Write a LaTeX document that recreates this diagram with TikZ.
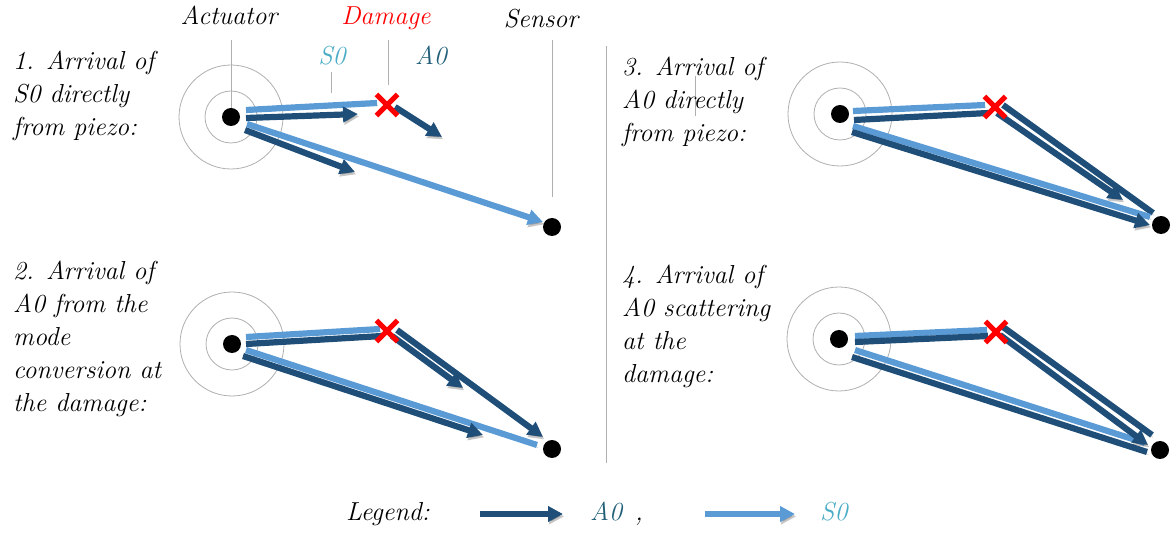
\documentclass[tikz,border=0pt]{standalone}
\usetikzlibrary{arrows.meta,shapes.misc,calc,backgrounds}
\definecolor{aodark}{RGB}{31,78,121}
\definecolor{solight}{RGB}{91,155,213}
\definecolor{sotext}{RGB}{75,172,198}
\definecolor{aotext}{RGB}{33,95,120}
\definecolor{guide}{RGB}{175,175,175}
\definecolor{damred}{RGB}{255,0,0}
\begin{document}
\begin{tikzpicture}[x=1pt,y=-1pt,
  txt/.style={font=\fontsize{26}{33}\selectfont\itshape, inner sep=0pt},
  para/.style={txt, align=left, anchor=north west},
  lbl/.style={txt, anchor=base},
  dot/.style={circle, fill=black, minimum size=18pt, inner sep=0pt},
  damage/.style={cross out, draw=damred, line width=5.2pt, minimum size=16pt, inner sep=0pt},
  ring/.style={draw=guide, line width=0.8pt},
  guideline/.style={draw=guide, line width=1pt},
  shadowed/.style={preaction={draw=black, draw opacity=0.22, fill=black, fill opacity=0.22, transform canvas={shift={(1.2pt,-2.4pt)}}}},
  aoline/.style={shadowed, draw=aodark, line width=6.2pt},
  soline/.style={shadowed, draw=solight, line width=6.2pt},
  aoarrow/.style={aoline, -{Triangle[length=15pt,width=15pt]}},
  soarrow/.style={soline, -{Triangle[length=15pt,width=15pt]}}
]
\useasboundingbox (0,0) rectangle (1171,534);

% ---------- node positions ----------
\node[dot] (a1) at (231,117) {};
\node[dot] (s1) at (552,227) {};
\node[damage] (d1) at (387,105) {};
\node[dot] (a2) at (232,344) {};
\node[dot] (s2) at (552,449) {};
\node[damage] (d2) at (387,331) {};
\node[dot] (a3) at (840,114) {};
\node[dot] (s3) at (1161,225) {};
\node[damage] (d3) at (995,107) {};
\node[dot] (a4) at (839,339) {};
\node[dot] (s4) at (1160,450) {};
\node[damage] (d4) at (996,332) {};

% ---------- labels ----------
\node[lbl] (lact) at (229,25) {Actuator};
\node[lbl, text=damred] (ldam) at (386,25) {Damage};
\node[lbl] (lsen) at (541,28) {Sensor};
\node[lbl, text=sotext] (lso) at (332,65) {S0};
\node[lbl, text=aotext] (lao) at (431,65) {A0};

\node[para] (t1) at (13,51) {1. Arrival of\\S0 directly\\from piezo:};
\node[para] (t2) at (13,261) {2. Arrival of\\A0 from the\\mode\\conversion at\\the damage:};
\node[para] (t3) at (622,57) {3. Arrival of\\A0 directly\\from piezo:};
\node[para] (t4) at (622,265) {4. Arrival of\\A0 scattering\\at the\\damage:};

% legend
\node[txt, anchor=base west] (leg) at (346,521) {Legend:};
\coordinate (la1) at (480,514);
\coordinate (la2) at (563,514);
\node[txt, anchor=base west, text=aotext] (legao) at (590,521) {A0};
\node[txt, anchor=base west] (comma) at (635,521) {,};
\coordinate (ls1) at (705,514);
\coordinate (ls2) at (795,514);
\node[txt, anchor=base west, text=sotext] (legso) at (820,521) {S0};

\begin{scope}[on background layer]
  % rings
  \foreach \n in {a1,a2,a3,a4}{
    \draw[ring] (\n) circle[radius=26pt];
    \draw[ring] (\n) circle[radius=52pt];
  }
  % guide lines
  \draw[guideline] (231,40) -- (a1.north);
  \draw[guideline] (388,40) -- (388,85);
  \draw[guideline] (552,40) -- (552,197);
  \draw[guideline] (331,72) -- (331,93);
  \draw[guideline] (606,46) -- (606,463);
  \draw[guideline] (695,76) -- (695,116);

  % panel 1
  \draw[soline] ($(a1)+(15,-7)$) -- ($(d1)+(-10,-2)$);
  \draw[aoarrow] ($(a1)+(15,1)$) -- ($(d1)+(-29,9)$);
  \draw[aoarrow] ($(d1)+(8,2)$) -- ($(d1)+(55,32)$);
  \draw[aoarrow] ($(a1)+(14,13)$) -- ($(a1)+(124,55)$);
  \draw[soarrow] ($(a1)+(16,7)$) -- ($(s1)+(-9,-5)$);

  % panel 2
  \draw[soline] ($(a2)+(14,-7)$) -- ($(d2)+(-7,-2)$);
  \draw[aoline] ($(a2)+(14,0)$) -- ($(d2)+(-5,5)$);
  \draw[aoarrow] ($(d2)+(10,-1)$) -- ($(s2)+(-9,-12)$);
  \draw[aoarrow] ($(d2)+(5,5)$) -- ($(d2)+(76,57)$);
  \draw[soline] ($(a2)+(14,6)$) -- ($(s2)+(-15,-4)$);
  \draw[aoarrow] ($(a2)+(11,12)$) -- ($(s2)+(-69,-14)$);

  % panel 3
  \draw[soline] ($(a3)+(13,-3)$) -- ($(d3)+(-10,-2)$);
  \draw[aoline] ($(a3)+(14,6)$) -- ($(d3)+(-7,6)$);
  \draw[aoline] ($(d3)+(8,-2)$) -- ($(s3)+(-8,-12)$);
  \draw[aoarrow] ($(d3)+(2,6)$) -- ($(s3)+(-38,-25)$);
  \draw[soline] ($(a3)+(13,12)$) -- ($(s3)+(-11,-8)$);
  \draw[aoarrow] ($(a3)+(12,18)$) -- ($(s3)+(-11,0)$);

  % panel 4
  \draw[soline] ($(a4)+(16,-3)$) -- ($(d4)+(-9,-2)$);
  \draw[aoline] ($(a4)+(16,3)$) -- ($(d4)+(-8,4)$);
  \draw[aoline] ($(d4)+(7,-5)$) -- ($(s4)+(-8,-15)$);
  \draw[soline] ($(a4)+(16,11)$) -- ($(s4)+(-15,-7)$);
  \draw[aoline] ($(a4)+(13,18)$) -- ($(s4)+(-13,2)$);
  \draw[aoarrow] ($(d4)+(4,3)$) -- ($(s4)+(-12,-5)$);

  % legend arrows
  \draw[aoarrow] (la1) -- (la2);
  \draw[soarrow] (ls1) -- (ls2);
\end{scope}
\end{tikzpicture}
\end{document}
